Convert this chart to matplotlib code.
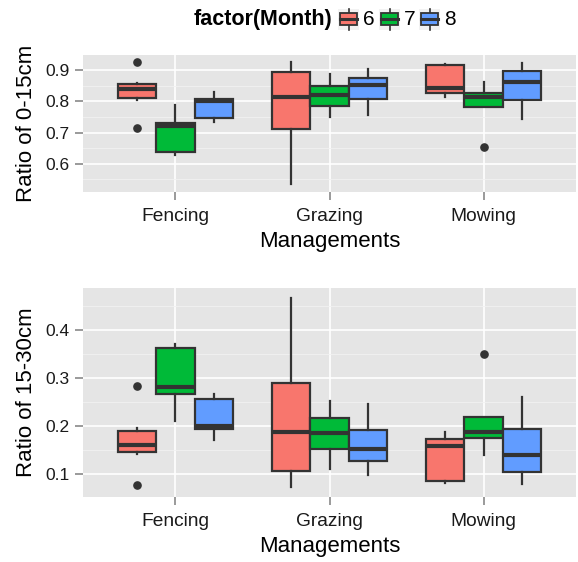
import matplotlib

matplotlib.use("Agg")
import matplotlib.pyplot as plt
from matplotlib.patches import Rectangle

plt.rcParams["font.family"] = ["Liberation Sans", "DejaVu Sans"]

managements = ["Fencing", "Grazing", "Mowing"]
months = ["6", "7", "8"]
month_colors = ["#F8766D", "#00BA38", "#619CFF"]

# Ratio of 0-15cm. Order: Fencing 6,7,8 / Grazing 6,7,8 / Mowing 6,7,8
top_med = [0.838, 0.721, 0.802, 0.814, 0.820, 0.851, 0.844, 0.814, 0.862]
top_q1 = [0.809, 0.637, 0.745, 0.711, 0.784, 0.808, 0.828, 0.782, 0.805]
top_q3 = [0.856, 0.732, 0.808, 0.894, 0.848, 0.873, 0.916, 0.826, 0.897]
top_lo = [0.803, 0.628, 0.734, 0.536, 0.749, 0.755, 0.813, 0.782, 0.742]
top_hi = [0.860, 0.789, 0.830, 0.926, 0.887, 0.902, 0.919, 0.861, 0.923]
top_out = [[0.925, 0.716], [], [], [], [], [], [], [0.653], []]

# Ratio of 15-30cm
bot_med = [0.160, 0.281, 0.200, 0.187, 0.185, 0.153, 0.158, 0.187, 0.139]
bot_q1 = [0.146, 0.266, 0.193, 0.107, 0.153, 0.128, 0.085, 0.174, 0.104]
bot_q3 = [0.189, 0.362, 0.256, 0.290, 0.217, 0.192, 0.173, 0.218, 0.193]
bot_lo = [0.141, 0.210, 0.170, 0.073, 0.111, 0.098, 0.081, 0.139, 0.079]
bot_hi = [0.195, 0.370, 0.266, 0.467, 0.252, 0.245, 0.188, 0.218, 0.261]
bot_out = [[0.283, 0.077], [], [], [], [], [], [], [0.349], []]

edge = "#333333"
W, H = 578, 562
fig = plt.figure(figsize=(W / 100, H / 100), dpi=100)
fig.patch.set_facecolor("white")


def px_axes(left, top, right, bottom):
    return fig.add_axes([left / W, 1 - bottom / H, (right - left) / W, (bottom - top) / H])


def draw_panel(ax, med, q1, q3, lo, hi, out, ylim, yticks, yminor, ylabel):
    stats = []
    positions = []
    for i in range(len(med)):
        stats.append(dict(med=med[i], q1=q1[i], q3=q3[i], whislo=lo[i], whishi=hi[i], fliers=out[i]))
        positions.append(i // 3 + (i % 3 - 1) * 0.25)
    bp = ax.bxp(
        stats,
        positions=positions,
        widths=0.25,
        patch_artist=True,
        showcaps=False,
        boxprops=dict(edgecolor=edge, linewidth=1.6),
        whiskerprops=dict(color=edge, linewidth=1.6),
        medianprops=dict(color=edge, linewidth=3.0, solid_capstyle="butt"),
        flierprops=dict(marker="o", markerfacecolor=edge, markeredgecolor=edge, markersize=5.2),
        zorder=3,
    )
    for i, box in enumerate(bp["boxes"]):
        box.set_facecolor(month_colors[i % 3])

    ax.set_facecolor("#E5E5E5")
    for s in ax.spines.values():
        s.set_visible(False)
    ax.set_xlim(-0.6, 2.6)
    ax.set_ylim(*ylim)
    ax.set_xticks(range(len(managements)))
    ax.set_xticklabels(managements, fontsize=13.8, color="#1A1A1A")
    ax.set_yticks(yticks)
    ax.set_yticklabels([f"{t:.1f}" for t in yticks], fontsize=12.5, color="#1A1A1A")
    ax.set_yticks(yminor, minor=True)
    ax.tick_params(which="major", length=5.5, width=1.1, color="#7F7F7F", pad=4)
    ax.tick_params(axis="x", which="major", pad=6)
    ax.tick_params(which="minor", length=0)
    ax.grid(which="major", color="white", linewidth=1.2, zorder=0)
    ax.grid(which="minor", axis="y", color="#F2F2F2", linewidth=0.6, zorder=0)
    ax.set_axisbelow(True)
    ax.set_xlabel("Managements", fontsize=16, color="black", labelpad=4.5)
    ax.set_ylabel(ylabel, fontsize=16, color="black", labelpad=6)


ax1 = px_axes(83, 55, 576, 192)
draw_panel(ax1, top_med, top_q1, top_q3, top_lo, top_hi, top_out,
           (0.51, 0.948), [0.6, 0.7, 0.8, 0.9], [0.55, 0.65, 0.75, 0.85], "Ratio of 0-15cm")

ax2 = px_axes(83, 288, 576, 497)
draw_panel(ax2, bot_med, bot_q1, bot_q3, bot_lo, bot_hi, bot_out,
           (0.052, 0.4875), [0.1, 0.2, 0.3, 0.4], [0.15, 0.25, 0.35, 0.45], "Ratio of 15-30cm")

# Legend drawn in pixel coordinates on an overlay
lax = fig.add_axes([0, 0, 1, 1])
lax.set_xlim(0, W)
lax.set_ylim(H, 0)
lax.axis("off")
lax.text(332, 19.5, "factor(Month)", fontsize=15.5, fontweight="bold", ha="right", va="center")
key_x = [338, 379, 419]
for kx, lab, col in zip(key_x, months, month_colors):
    lax.add_patch(Rectangle((kx, 8.5), 21, 21, facecolor="#F2F2F2", edgecolor="none"))
    lax.plot([kx + 10.5, kx + 10.5], [8.5, 29.5], color=edge, lw=1.2)
    lax.add_patch(Rectangle((kx + 2, 13), 17, 12, facecolor=col, edgecolor=edge, lw=1.3, zorder=3))
    lax.plot([kx + 2, kx + 19], [19, 19], color=edge, lw=2.2, zorder=4)
    lax.text(kx + 25, 19.5, lab, fontsize=15, ha="left", va="center")

fig.savefig("out.png", dpi=100, facecolor="white")
